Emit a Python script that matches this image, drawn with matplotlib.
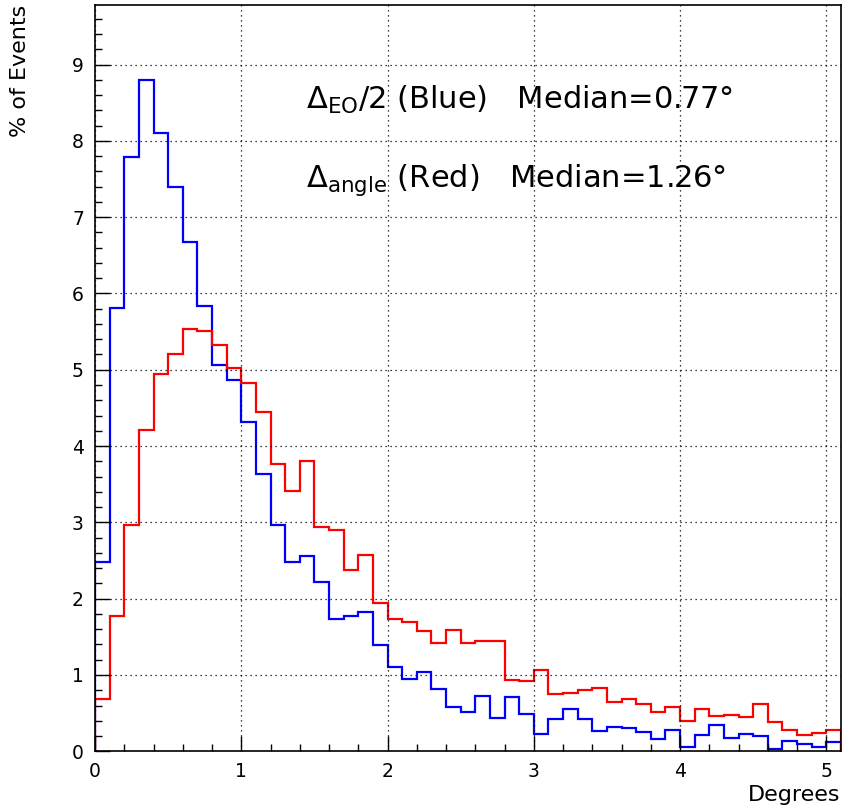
import numpy as np
import matplotlib
import matplotlib.pyplot as plt
from matplotlib.ticker import MultipleLocator

matplotlib.use('Agg')

# bins of 0.1 degree from 0 to 5.1
bin_edges = np.round(np.arange(0, 5.15, 0.1), 2)

# Delta_EO/2 (blue), % of events per bin
blue_values = [2.48, 5.81, 7.79, 8.80, 8.10, 7.40, 6.67, 5.84, 5.06, 4.86,
               4.31, 3.64, 2.97, 2.48, 2.56, 2.22, 1.73, 1.77, 1.83, 1.39,
               1.10, 0.95, 1.04, 0.82, 0.58, 0.52, 0.73, 0.44, 0.71, 0.49,
               0.23, 0.42, 0.55, 0.42, 0.26, 0.32, 0.31, 0.25, 0.16, 0.28,
               0.05, 0.21, 0.35, 0.18, 0.23, 0.20, 0.03, 0.13, 0.10, 0.05,
               0.12]

# Delta_angle (red), % of events per bin
red_values = [0.69, 1.77, 2.97, 4.21, 4.95, 5.21, 5.54, 5.51, 5.32, 5.02,
              4.83, 4.45, 3.76, 3.41, 3.81, 2.94, 2.90, 2.38, 2.57, 1.94,
              1.74, 1.69, 1.57, 1.42, 1.59, 1.42, 1.44, 1.45, 0.94, 0.92,
              1.07, 0.75, 0.76, 0.80, 0.83, 0.65, 0.69, 0.62, 0.51, 0.58,
              0.40, 0.55, 0.46, 0.47, 0.45, 0.62, 0.39, 0.28, 0.21, 0.24,
              0.28]

blue_label = r'$\Delta_{\mathregular{EO}}$/2 (Blue)   Median=0.77°'
red_label = r'$\Delta_{\mathregular{angle}}$ (Red)   Median=1.26°'

plt.rcParams['font.family'] = ['DejaVu Sans']
plt.rcParams['mathtext.fontset'] = 'dejavusans'

fig = plt.figure(figsize=(8.42, 8.11), dpi=100)
ax = fig.add_axes([95 / 842, 1 - 751.3 / 811, (841 - 95) / 842, (751.3 - 5) / 811])

ax.stairs(blue_values, bin_edges, color='#0000ff', linewidth=1.6, baseline=0)
ax.stairs(red_values, bin_edges, color='#ff0000', linewidth=1.6, baseline=0)

ax.set_xlim(0, 5.1)
ax.set_ylim(0, 9.78)

ax.xaxis.set_major_locator(MultipleLocator(1))
ax.xaxis.set_minor_locator(MultipleLocator(0.2))
ax.yaxis.set_major_locator(MultipleLocator(1))
ax.yaxis.set_minor_locator(MultipleLocator(0.2))

ax.tick_params(which='both', direction='in', top=False, right=False, labelsize=13.5)
ax.tick_params(which='major', length=11, width=1)
ax.tick_params(which='minor', length=5, width=1)
ax.tick_params(axis='x', pad=8)
ax.tick_params(axis='y', pad=8)

ax.grid(True, which='major', color='black', linestyle=(0, (1, 3)), linewidth=0.9)

for sp in ax.spines.values():
    sp.set_linewidth(1.2)

ax.text(1.44, 8.54, blue_label, fontsize=22, va='center', ha='left')
ax.text(1.44, 7.49, red_label, fontsize=22, va='center', ha='left')

fig.text(840 / 842, 1 - 795 / 811, 'Degrees', fontsize=16, ha='right', va='center')
fig.text(20 / 842, 1 - 5 / 811, '% of Events', fontsize=16, rotation=90,
         ha='center', va='top')

fig.savefig('out.png', dpi=100)
plt.close(fig)
